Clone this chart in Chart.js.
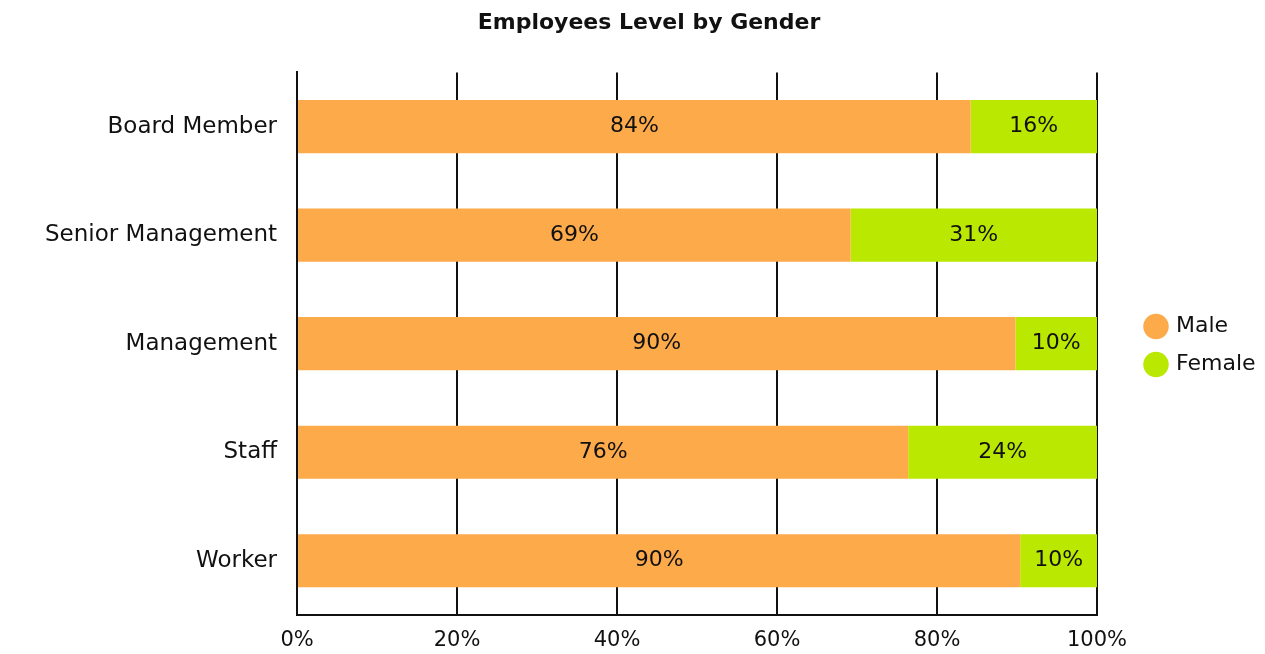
<!DOCTYPE html>
<html>
<head>
<meta charset="utf-8">
<script src="https://cdn.jsdelivr.net/npm/chart.js@4"></script>
<style>
  html, body { margin: 0; padding: 0; background: #fff; }
  #wrap { width: 1265px; height: 654px; }
</style>
</head>
<body>
<div id="wrap"><canvas id="genderChart"></canvas></div>
<script>
// data
const levels = ["Board Member", "Senior Management", "Management", "Staff", "Worker"];
const maleShare = [84.2, 69.2, 89.8, 76.4, 90.4];
const femaleShare = [15.8, 30.8, 10.2, 23.6, 9.6];
const xTicks = [0, 20, 40, 60, 80, 100];

const fontName = "'DejaVu Sans', sans-serif";
const legendWidth = 168;  // room on the right of the plot
const legendShift = 34;   // push legend items away from the plot
const legendDrop = 19;    // and a bit lower

// draws the % text in the middle of each bar piece
const barText = {
    id: 'barText',
    afterDatasetsDraw(chart) {
        const ctx = chart.ctx;
        ctx.save();
        ctx.font = "22px " + fontName;
        ctx.fillStyle = '#111';
        ctx.textAlign = 'center';
        ctx.textBaseline = 'middle';
        chart.data.datasets.forEach((ds, i) => {
            chart.getDatasetMeta(i).data.forEach((bar, j) => {
                const mid = (bar.x + bar.base) / 2;
                ctx.fillText(Math.round(ds.data[j]) + '%', mid, bar.y);
            });
        });
        ctx.restore();
    }
};

// wider legend box, items drawn nearer the right edge
const legendRoom = {
    id: 'legendRoom',
    beforeLayout(chart) {
        const lg = chart.legend;
        if (!lg || lg._roomPatched) return;
        const fit = lg.fit.bind(lg);
        lg.fit = function () { fit(); this.width = legendWidth; };
        const draw = lg.draw.bind(lg);
        lg.draw = function () {
            const l = this.left, t = this.top, b = this.bottom;
            this.left = l + legendShift;
            this.top = t + legendDrop;
            this.bottom = b + legendDrop;
            draw();
            this.left = l;
            this.top = t;
            this.bottom = b;
        };
        lg._roomPatched = true;
    }
};

new Chart(document.getElementById('genderChart'), {
    type: 'bar',
    data: {
        labels: levels,
        datasets: [
            { label: 'Male', data: maleShare, backgroundColor: '#FDAA4B' },
            { label: 'Female', data: femaleShare, backgroundColor: '#BBE800' }
        ]
    },
    options: {
        indexAxis: 'y',
        responsive: true,
        maintainAspectRatio: false,
        animation: false,
        barPercentage: 0.49,
        categoryPercentage: 1,
        layout: { padding: { left: 33, right: 0, top: 0, bottom: 1 } },
        scales: {
            x: {
                stacked: true,
                min: 0,
                max: 100,
                afterBuildTicks: (axis) => { axis.ticks = xTicks.map(v => ({ value: v })); },
                afterFit: (axis) => { axis.height = 38; },
                grid: { color: '#111', lineWidth: 2, drawTicks: false },
                border: { color: '#111', width: 2 },
                ticks: {
                    color: '#111',
                    padding: 13,
                    font: { size: 21, family: fontName },
                    callback: (v) => v + '%'
                }
            },
            y: {
                stacked: true,
                grid: { display: false },
                border: { color: '#111', width: 2 },
                ticks: {
                    color: '#111',
                    padding: 12,
                    font: { size: 23, family: fontName }
                }
            }
        },
        plugins: {
            title: {
                display: true,
                text: 'Employees Level by Gender',
                color: '#111',
                font: { size: 22, weight: 'bold', family: fontName },
                padding: { top: 10, bottom: 36 }
            },
            legend: {
                position: 'right',
                labels: {
                    usePointStyle: true,
                    pointStyle: 'circle',
                    boxWidth: 18,
                    boxHeight: 18,
                    padding: 16,
                    color: '#111',
                    font: { size: 22, family: fontName }
                }
            },
            tooltip: { enabled: false }
        }
    },
    plugins: [barText, legendRoom]
});
</script>
</body>
</html>
